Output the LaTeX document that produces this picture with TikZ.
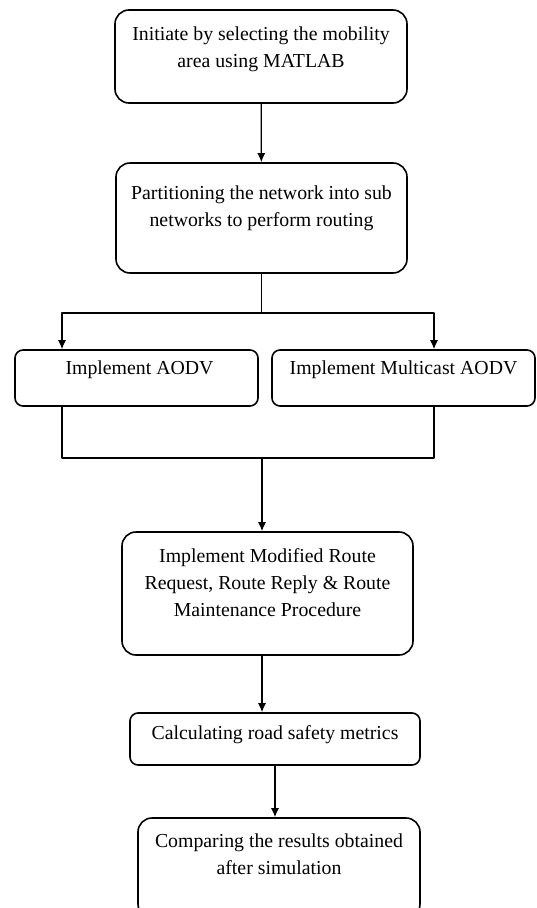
\documentclass[tikz,border=0pt]{standalone}
\usepackage{fontspec}
\setmainfont{Liberation Serif}
\usetikzlibrary{positioning,arrows.meta}
\begin{document}
\begin{tikzpicture}[x=1pt,y=-1pt,>={Latex[length=9pt,width=8pt]},line cap=round,line join=round,
	box/.style={draw,line width=1.6pt,rounded corners=14pt,inner sep=0pt},
	sbox/.style={box,rounded corners=8pt},
	txt/.style={anchor=north,align=center,inner sep=0pt,font=\fontsize{19.8}{27}\selectfont},
	con/.style={line width=1.3pt}]
	\useasboundingbox (0,0) rectangle (537,908);
	\coordinate (l) at (62,0); \coordinate (r) at (434,0);
	% boxes
	\node[box,minimum width=292pt,minimum height=93pt] (b1) at (261,56.5) {};
	\node[box,minimum width=291pt,minimum height=110pt] (b2) at (261.5,218) {};
	\node[sbox,minimum width=243pt,minimum height=56pt] (b3) at (136.5,378) {};
	\node[sbox,minimum width=263pt,minimum height=56pt] (b4) at (403.5,378) {};
	\node[box,minimum width=291pt,minimum height=123pt] (b5) at (267.5,593.5) {};
	\node[sbox,minimum width=290pt,minimum height=52pt] (b6) at (275,739) {};
	\node[box,minimum width=282pt,minimum height=100pt] (b7) at (279,868) {};
	% texts
	\node[txt,below=17pt of b1.north] (t1) {Initiate by selecting the mobility\\area using MATLAB};
	\node[txt,below=23pt of b2.north] (t2) {Partitioning the network into sub\\networks to perform routing};
	\node[txt,below=11pt of b3.north,xshift=3pt] (t3) {Implement AODV};
	\node[txt,below=11pt of b4.north] (t4) {Implement Multicast AODV};
	\node[txt,below=17pt of b5.north] (t5) {Implement Modified Route\\Request, Route Reply \& Route\\Maintenance Procedure};
	\node[txt,below=13pt of b6.north] (t6) {Calculating road safety metrics};
	\node[txt,below=16pt of b7.north] (t7) {Comparing the results obtained\\after simulation};
	% connectors
	\draw[con,->] (b1) -- (b2);
	\draw[con] (b2.south) -- (b2.south |- 0,313) coordinate (fork);
	\draw[con,->] (fork) -| (b3.north -| l);
	\draw[con,->] (fork) -| (b4.north -| r);
	\draw[con] (b3.south -| l) |- (262,458) coordinate (join);
	\draw[con] (b4.south -| r) |- (join);
	\draw[con,->] (join) -- (b5.north -| join);
	\draw[con,->] (b5.south -| join) -- (b6.north -| join);
	\draw[con,->] (b6.south) -- (b6.south |- b7.north);
\end{tikzpicture}
\end{document}
